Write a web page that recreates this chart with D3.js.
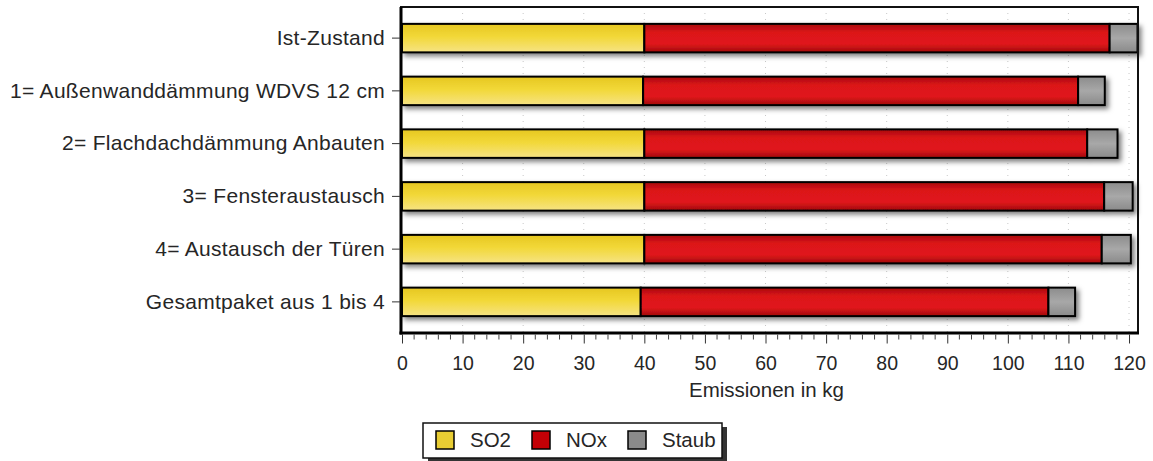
<!DOCTYPE html>
<html>
<head>
<meta charset="utf-8">
<script src="https://cdn.jsdelivr.net/npm/d3@7"></script>
<style>
  html, body { margin: 0; padding: 0; background: #fff; }
  svg { display: block; font-family: "Liberation Sans", Arial, sans-serif; }
</style>
</head>
<body>
<svg id="chart" width="1153" height="461"></svg>
<script>
// Emissionen je Sanierungsvariante (kg)
const categories = [
  "Ist-Zustand",
  "1= Außenwanddämmung WDVS 12 cm",
  "2= Flachdachdämmung Anbauten",
  "3= Fensteraustausch",
  "4= Austausch der Türen",
  "Gesamtpaket aus 1 bis 4"
];
const so2   = [40.0, 39.8, 40.0, 40.0, 40.0, 39.4];
const nox   = [76.8, 71.8, 73.1, 75.9, 75.5, 67.3];
const staub = [4.6, 4.4, 5.0, 4.7, 4.8, 4.4];
const seriesNames = ["SO2", "NOx", "Staub"];
const xTicks = [0, 10, 20, 30, 40, 50, 60, 70, 80, 90, 100, 110, 120];
const axisTitle = "Emissionen in kg";

const svg = d3.select("#chart");
const plot = { left: 401, right: 1138, top: 7, bottom: 333 };
const textColor = "#262626";

const rows = categories.map((c, i) => ({ cat: c, SO2: so2[i], NOx: nox[i], Staub: staub[i] }));
const stacked = d3.stack().keys(seriesNames)(rows);
const maxTotal = d3.max(rows, d => d.SO2 + d.NOx + d.Staub);

const x = d3.scaleLinear().domain([0, maxTotal]).range([plot.left + 1, plot.right - 0.5]);
const y = d3.scaleBand().domain(categories).range([plot.top, plot.bottom])
  .paddingInner(0.46).paddingOuter(0.32);

// gradients and shadows
const defs = svg.append("defs");
const grads = {
  SO2:   [[0, "#e6c721"], [0.45, "#f2d838"], [1, "#f6e384"]],
  NOx:   [[0, "#a80a0d"], [0.3, "#dc1519"], [0.7, "#e0181b"], [1, "#a00a0c"]],
  Staub: [[0, "#8c8c8c"], [0.5, "#a8a8a8"], [1, "#8a8a8a"]]
};
Object.entries(grads).forEach(([k, stops]) => {
  const g = defs.append("linearGradient").attr("id", "g-" + k)
    .attr("x1", 0).attr("y1", 0).attr("x2", 0).attr("y2", 1);
  stops.forEach(s => g.append("stop").attr("offset", s[0]).attr("stop-color", s[1]));
});
const sh = defs.append("filter").attr("id", "shadow")
  .attr("x", "-5%").attr("y", "-30%").attr("width", "115%").attr("height", "180%");
sh.append("feDropShadow").attr("dx", 3).attr("dy", 3).attr("stdDeviation", 2.4)
  .attr("flood-color", "#000").attr("flood-opacity", 0.5);

// dotted grid lines
svg.append("g").selectAll("line").data(xTicks.filter(t => t > 0)).join("line")
  .attr("x1", d => x(d)).attr("x2", d => x(d))
  .attr("y1", plot.top).attr("y2", plot.bottom)
  .attr("stroke", "#c8c8c8").attr("stroke-width", 1).attr("stroke-dasharray", "1,5");

// stacked bars
const barGroup = svg.append("g");
categories.forEach((c, i) => {
  const g = barGroup.append("g").attr("filter", "url(#shadow)");
  stacked.forEach(layer => {
    const d = layer[i];
    g.append("rect")
      .attr("x", x(d[0])).attr("y", y(c))
      .attr("width", x(d[1]) - x(d[0])).attr("height", y.bandwidth())
      .attr("fill", "url(#g-" + layer.key + ")")
      .attr("stroke", "#000").attr("stroke-width", 2);
  });
});

// plot frame
svg.append("rect").attr("x", plot.left).attr("y", plot.top)
  .attr("width", plot.right - plot.left).attr("height", plot.bottom - plot.top)
  .attr("fill", "none").attr("stroke", "#111").attr("stroke-width", 2);
svg.append("line").attr("x1", plot.left).attr("x2", plot.left)
  .attr("y1", plot.top).attr("y2", plot.bottom + 1.5)
  .attr("stroke", "#000").attr("stroke-width", 3);
svg.append("line").attr("x1", plot.left - 1.5).attr("x2", plot.right + 1)
  .attr("y1", plot.bottom).attr("y2", plot.bottom)
  .attr("stroke", "#000").attr("stroke-width", 3);

// x axis: major and minor ticks
const xAxis = d3.axisBottom(x).tickValues(xTicks).tickSize(9).tickPadding(13)
  .tickFormat(d3.format("d"));
const gx = svg.append("g").attr("transform", `translate(0,${plot.bottom + 1.5})`).call(xAxis);
gx.select(".domain").remove();
gx.selectAll(".tick line").attr("stroke", "#333").attr("stroke-width", 1);
gx.selectAll(".tick text").attr("font-size", 19.5).attr("fill", textColor)
  .attr("font-family", "'Liberation Sans', Arial, sans-serif");
svg.append("g").selectAll("line")
  .data(d3.range(0, 121, 2).filter(v => v % 10 !== 0)).join("line")
  .attr("x1", d => x(d)).attr("x2", d => x(d))
  .attr("y1", plot.bottom + 1.5).attr("y2", plot.bottom + 6.5)
  .attr("stroke", "#444").attr("stroke-width", 1);

// y axis labels
const yAxis = d3.axisLeft(y).tickSize(8).tickPadding(7);
const gy = svg.append("g").attr("transform", `translate(${plot.left - 1},0)`).call(yAxis);
gy.select(".domain").remove();
gy.selectAll(".tick line").attr("stroke", "#333");
gy.selectAll(".tick text").attr("font-size", 21).attr("letter-spacing", 0.3)
  .attr("fill", textColor)
  .attr("font-family", "'Liberation Sans', Arial, sans-serif");

// axis title
svg.append("text").attr("x", (plot.left + plot.right) / 2 - 3).attr("y", 397)
  .attr("text-anchor", "middle").attr("font-size", 20.5).attr("fill", textColor)
  .text(axisTitle);

// legend
const lg = svg.append("g");
lg.append("rect").attr("x", 428).attr("y", 427).attr("width", 299).attr("height", 35)
  .attr("fill", "#111").attr("opacity", 0.85);
lg.append("rect").attr("x", 423).attr("y", 423).attr("width", 299).attr("height", 35)
  .attr("fill", "#fff").attr("stroke", "#111").attr("stroke-width", 1.5);
const legendColors = { SO2: "#e8cd33", NOx: "#c40006", Staub: "#8a8a8a" };
const legendX = [436, 532, 628];
seriesNames.forEach((k, i) => {
  lg.append("rect").attr("x", legendX[i]).attr("y", 431).attr("width", 18).attr("height", 18)
    .attr("fill", legendColors[k]).attr("stroke", "#000").attr("stroke-width", 1.5);
  lg.append("text").attr("x", legendX[i] + 34).attr("y", 447)
    .attr("font-size", 20.5).attr("fill", textColor).text(k);
});
</script>
</body>
</html>
